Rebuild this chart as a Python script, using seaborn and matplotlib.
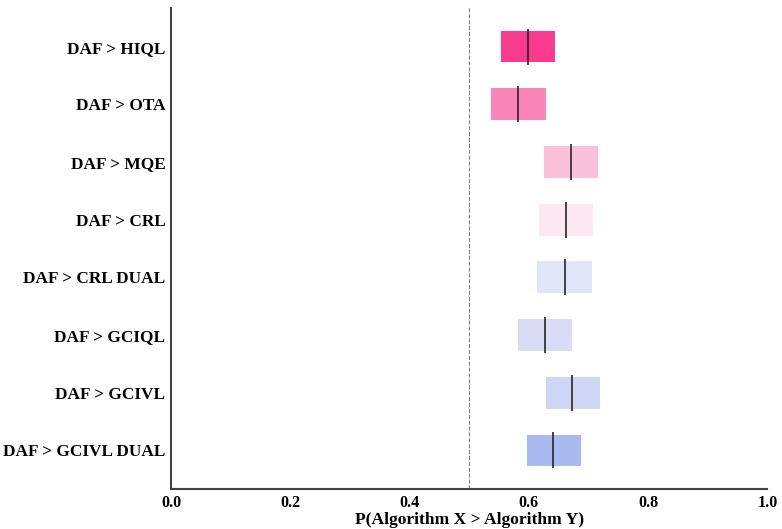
import matplotlib
matplotlib.use("Agg")
import matplotlib.pyplot as plt
import seaborn as sns
import numpy as np

# Probability of improvement: DAF vs each baseline
pairs = ['DAF > HIQL', 'DAF > OTA', 'DAF > MQE', 'DAF > CRL',
         'DAF > CRL DUAL', 'DAF > GCIQL', 'DAF > GCIVL', 'DAF > GCIVL DUAL']
lower = [0.554, 0.537, 0.626, 0.617, 0.614, 0.582, 0.629, 0.597]
upper = [0.644, 0.628, 0.716, 0.708, 0.705, 0.673, 0.720, 0.688]
point = [0.598, 0.581, 0.671, 0.663, 0.660, 0.627, 0.673, 0.641]
colors = ['#f93b8e', '#f985b7', '#fbc1da', '#fde7f1',
          '#e0e5f7', '#d9dcf4', '#cdd6f4', '#a8baf0']
xticks = [0.0, 0.2, 0.4, 0.6, 0.8, 1.0]

sns.set_style('white')
plt.rcParams['font.family'] = ['Liberation Serif', 'DejaVu Serif']
plt.rcParams['font.weight'] = 'bold'
plt.rcParams['text.color'] = 'black'
plt.rcParams['axes.labelcolor'] = 'black'
plt.rcParams['xtick.color'] = 'black'
plt.rcParams['ytick.color'] = 'black'

fig = plt.figure(figsize=(7.82, 5.29), dpi=100)
ax = fig.add_axes([0.2187, 0.0756, 0.7627, 0.9093])

ypos = np.arange(len(pairs))
widths = np.array(upper) - np.array(lower)
ax.barh(ypos, widths, left=lower, height=0.55, color=colors, edgecolor='none')
for y, p in zip(ypos, point):
    ax.vlines(p, y - 0.31, y + 0.31, color='#222222', linewidth=1.3, alpha=0.9)

ax.axvline(0.5, color='gray', linestyle='--', linewidth=0.8, zorder=0)

ax.set_xlim(0, 1)
ax.set_ylim(len(pairs) - 0.33, -0.67)
ax.set_yticks(ypos)
ax.set_yticklabels(pairs, fontsize=12.4, fontweight='bold')
ax.set_xticks(xticks)
ax.set_xticklabels([f'{t:.1f}' for t in xticks], fontsize=11.5, fontweight='bold')
ax.tick_params(axis='y', length=0, pad=4)
ax.tick_params(axis='x', length=0, pad=4)
ax.set_xlabel('P(Algorithm X > Algorithm Y)', fontsize=12.6, fontweight='bold', labelpad=1)

sns.despine(ax=ax)
for s in ['left', 'bottom']:
    ax.spines[s].set_color('#444444')
    ax.spines[s].set_linewidth(1.5)

fig.savefig('out.png', dpi=100)
